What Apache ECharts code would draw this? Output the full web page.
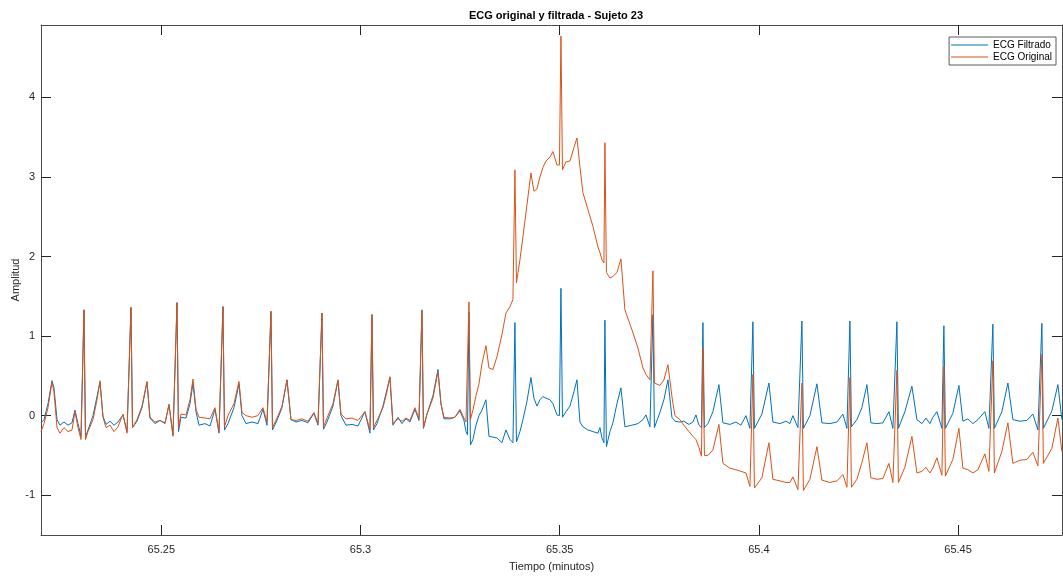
<!DOCTYPE html>
<html>
<head>
<meta charset="utf-8">
<script src="https://cdn.jsdelivr.net/npm/echarts@6/dist/echarts.min.js"></script>
<style>
html,body{margin:0;padding:0;background:#fff;}
#chart{width:1063px;height:578px;}
</style>
</head>
<body>
<div id="chart"></div>
<script>
const timeMin = [
65.21980, 65.22055, 65.22156, 65.22256, 65.22306, 65.22382, 65.22457, 65.22557, 65.22658, 65.22758,
65.22833, 65.22909, 65.22984, 65.23059, 65.23097, 65.23160, 65.23285, 65.23386, 65.23461, 65.23536,
65.23612, 65.23712, 65.23812, 65.23913, 65.24038, 65.24139, 65.24239, 65.24277, 65.24390, 65.24515,
65.24641, 65.24716, 65.24841, 65.24967, 65.25092, 65.25193, 65.25293, 65.25394, 65.25431, 65.25494,
65.25620, 65.25720, 65.25795, 65.25871, 65.25946, 65.26096, 65.26222, 65.26347, 65.26448, 65.26548,
65.26586, 65.26674, 65.26824, 65.26950, 65.27025, 65.27126, 65.27276, 65.27427, 65.27552, 65.27653,
65.27753, 65.27791, 65.27904, 65.28029, 65.28155, 65.28255, 65.28381, 65.28531, 65.28682, 65.28832,
65.28933, 65.29033, 65.29071, 65.29159, 65.29309, 65.29435, 65.29510, 65.29636, 65.29786, 65.29937,
65.30112, 65.30238, 65.30288, 65.30326, 65.30414, 65.30564, 65.30665, 65.30740, 65.30815, 65.30941,
65.31041, 65.31142, 65.31242, 65.31367, 65.31468, 65.31543, 65.31581, 65.31669, 65.31819, 65.31945,
65.32020, 65.32095, 65.32246, 65.32371, 65.32497, 65.32547, 65.32597, 65.32648, 65.32685, 65.32723,
65.32760, 65.32823, 65.32899, 65.32974, 65.33049, 65.33149, 65.33225, 65.33325, 65.33426, 65.33551,
65.33651, 65.33752, 65.33827, 65.33877, 65.33915, 65.34003, 65.34078, 65.34179, 65.34279, 65.34354,
65.34430, 65.34505, 65.34580, 65.34656, 65.34756, 65.34831, 65.34932, 65.34994, 65.35032, 65.35070,
65.35158, 65.35258, 65.35358, 65.35434, 65.35509, 65.35584, 65.35710, 65.35835, 65.35961, 65.36011,
65.36061, 65.36111, 65.36136, 65.36174, 65.36262, 65.36337, 65.36438, 65.36538, 65.36638, 65.36814,
65.36965, 65.37090, 65.37166, 65.37266, 65.37316, 65.37341, 65.37379, 65.37517, 65.37617, 65.37718,
65.37818, 65.37893, 65.38019, 65.38119, 65.38245, 65.38345, 65.38421, 65.38496, 65.38559, 65.38596,
65.38634, 65.38722, 65.38847, 65.38998, 65.39098, 65.39274, 65.39425, 65.39550, 65.39676, 65.39776,
65.39851, 65.39889, 65.40077, 65.40253, 65.40353, 65.40529, 65.40680, 65.40780, 65.40855, 65.40981,
65.41081, 65.41119, 65.41282, 65.41458, 65.41583, 65.41784, 65.41960, 65.42110, 65.42211, 65.42286,
65.42324, 65.42462, 65.42587, 65.42713, 65.42813, 65.42964, 65.43114, 65.43265, 65.43365, 65.43466,
65.43503, 65.43666, 65.43842, 65.43968, 65.44093, 65.44194, 65.44294, 65.44369, 65.44470, 65.44595,
65.44645, 65.44683, 65.44871, 65.45022, 65.45122, 65.45248, 65.45373, 65.45499, 65.45674, 65.45775,
65.45875, 65.45913, 65.46101, 65.46252, 65.46377, 65.46553, 65.46729, 65.46879, 65.47005, 65.47105,
65.47143, 65.47356, 65.47507, 65.47607
];

const ecgFiltrado = [
-0.09, -0.05, 0.15, 0.44, 0.35, -0.05, -0.12, -0.08, -0.12, -0.09,
0.07, -0.1, -0.26, 1.33, -0.27, -0.18, 0, 0.24, 0.42, -0.01,
-0.11, -0.07, -0.12, -0.08, 0.01, -0.2, 1.36, -0.15, -0.07, 0.1,
0.42, -0.03, -0.1, -0.06, -0.1, 0.14, -0.24, 1.42, -0.2, -0.02,
-0.03, 0.15, 0.41, 0.05, -0.12, -0.1, -0.13, 0.08, -0.22, 1.37,
-0.18, -0.1, 0.1, 0.4, 0, -0.1, -0.08, -0.1, 0.08, -0.12,
1.31, -0.18, -0.06, 0.1, 0.45, -0.05, -0.08, -0.06, -0.09, 0.03,
-0.12, 1.29, -0.17, -0.08, 0.12, 0.44, 0, -0.12, -0.11, -0.13,
0.05, -0.22, 1.27, -0.18, -0.1, 0.12, 0.33, 0.48, -0.12, -0.02,
-0.1, -0.04, -0.08, 0.08, -0.06, 1.33, -0.16, 0.02, 0.25, 0.58,
0.15, -0.04, -0.04, -0.02, 0.06, 0.05, -0.06, -0.2, -0.24, 1.3,
-0.37, -0.3, -0.12, 0, 0.07, 0.2, -0.26, -0.27, -0.28, -0.34,
-0.18, -0.3, -0.34, 1.17, -0.33, -0.2, -0.05, 0.18, 0.48, 0.22,
0.12, 0.2, 0.24, 0.22, 0.2, 0.15, 0.01, 0, 1.6, -0.02,
0.05, 0.12, 0.3, 0.45, -0.08, -0.14, -0.18, -0.2, -0.22, -0.15,
-0.28, -0.34, 1.2, -0.39, -0.2, -0.09, 0.15, 0.35, -0.14, -0.12,
-0.1, -0.05, 0.01, -0.14, -0.16, 1.27, -0.15, 0.04, 0.2, 0.45,
-0.02, -0.07, -0.08, -0.07, -0.11, -0.08, 0.01, -0.12, -0.15, 1.17,
-0.15, -0.1, 0.05, 0.39, -0.09, -0.11, -0.08, -0.12, 0, -0.16,
1.18, -0.16, 0.02, 0.41, -0.08, -0.1, -0.07, -0.1, 0, -0.15,
1.19, -0.16, 0, 0.4, -0.09, -0.1, -0.08, 0.02, -0.16, 1.19,
-0.14, -0.05, 0.1, 0.39, -0.09, -0.1, -0.09, 0.05, -0.16, 1.18,
-0.16, 0.05, 0.37, -0.05, -0.1, -0.03, -0.1, -0.02, 0.05, -0.16,
1.13, -0.16, 0.03, 0.38, -0.07, -0.04, -0.1, -0.05, 0.05, -0.16,
1.15, -0.16, 0.05, 0.41, -0.05, -0.07, -0.06, 0.02, -0.18, 1.16,
-0.16, 0.06, 0.39, -0.05
];

const ecgOriginal = [
-0.2, -0.1, 0.1, 0.42, 0.3, -0.15, -0.22, -0.15, -0.2, -0.18,
0.05, -0.15, -0.3, 1.33, -0.3, -0.2, -0.05, 0.2, 0.44, -0.02,
-0.15, -0.12, -0.2, -0.14, 0.02, -0.22, 1.36, -0.15, -0.05, 0.12,
0.43, -0.02, -0.08, -0.06, -0.09, 0.14, -0.26, 1.42, -0.15, 0.02,
0.01, 0.2, 0.46, 0.08, -0.02, -0.03, -0.04, 0.1, -0.2, 1.37,
-0.14, 0, 0.15, 0.43, 0.04, 0, -0.02, 0, 0.1, -0.08,
1.31, -0.15, -0.03, 0.12, 0.45, -0.05, -0.06, -0.04, -0.07, 0.04,
-0.1, 1.29, -0.14, -0.03, 0.15, 0.45, 0.02, -0.04, -0.03, -0.06,
0.05, -0.18, 1.27, -0.15, -0.06, 0.1, 0.3, 0.49, -0.1, -0.04,
-0.07, -0.03, -0.06, 0.1, -0.04, 1.31, -0.15, 0.02, 0.22, 0.55,
0.15, -0.02, -0.03, -0.02, 0.08, 0.1, -0.03, -0.08, -0.1, 1.43,
-0.05, 0.07, 0.25, 0.4, 0.65, 0.88, 0.6, 0.58, 0.74, 1.02,
1.29, 1.37, 1.46, 3.09, 1.67, 1.96, 2.25, 2.65, 3.05, 2.82,
2.85, 3.0, 3.12, 3.2, 3.25, 3.32, 3.15, 3.15, 4.77, 3.09,
3.19, 3.2, 3.37, 3.49, 3.13, 2.8, 2.59, 2.38, 2.12, 2.05,
1.96, 1.92, 3.43, 1.8, 1.73, 1.75, 1.8, 1.97, 1.33, 1.08,
0.85, 0.6, 0.52, 0.45, 0.45, 1.82, 0.41, 0.38, 0.45, 0.64,
0.24, 0, -0.05, -0.12, -0.2, -0.26, -0.3, -0.4, -0.51, 0.85,
-0.5, -0.5, -0.43, -0.11, -0.6, -0.66, -0.68, -0.7, -0.72, -0.89,
0.52, -0.91, -0.78, -0.34, -0.8, -0.82, -0.84, -0.84, -0.77, -0.93,
0.41, -0.94, -0.8, -0.39, -0.81, -0.84, -0.82, -0.74, -0.9, 0.48,
-0.9, -0.8, -0.59, -0.34, -0.78, -0.8, -0.79, -0.6, -0.84, 0.57,
-0.84, -0.65, -0.26, -0.72, -0.7, -0.65, -0.72, -0.66, -0.53, -0.75,
0.62, -0.76, -0.55, -0.16, -0.66, -0.68, -0.72, -0.68, -0.48, -0.7,
0.69, -0.72, -0.45, -0.09, -0.6, -0.56, -0.55, -0.46, -0.63, 0.77,
-0.6, -0.41, -0.03, -0.45
];

const xTicks = [65.25, 65.3, 65.35, 65.4, 65.45];
const yTicks = [-1, 0, 1, 2, 3, 4];
const seriesNames = ['ECG Filtrado', 'ECG Original'];
const titleText = 'ECG original y filtrada - Sujeto 23';
const xName = 'Tiempo (minutos)';
const yName = 'Amplitud';

const X_MIN = 65.2198, X_MAX = 65.4761, Y_MIN = -1.5, Y_MAX = 4.91;
const AX = '#262626';
const FONT = 'Liberation Sans, Arial, Helvetica, sans-serif';

const chart = echarts.init(document.getElementById('chart'), null, {renderer: 'canvas'});

function fmtX(v) { return String(parseFloat(Number(v).toFixed(2))); }

const tickStyle = {show: true, inside: true, length: 10, lineStyle: {color: AX, width: 1}};
const lineStyleAx = {show: true, onZero: false, lineStyle: {color: '#4a4a4a', width: 1}};

chart.setOption({
  animation: false,
  backgroundColor: '#ffffff',
  textStyle: {fontFamily: FONT},
  title: {
    text: titleText,
    left: 551, top: 5, textAlign: 'center',
    textStyle: {fontSize: 11, fontWeight: 'bold', color: '#000', fontFamily: FONT}
  },
  legend: {
    data: seriesNames,
    orient: 'vertical',
    right: 7, top: 37,
    padding: [2, 4, 2, 2],
    itemGap: 0,
    itemWidth: 37, itemHeight: 1,
    icon: 'rect',
    backgroundColor: '#fff',
    borderColor: '#5a5a5a', borderWidth: 1,
    textStyle: {fontSize: 10, color: '#000', lineHeight: 12, fontFamily: FONT}
  },
  grid: {left: 41, right: 1, top: 25, bottom: 43, containLabel: false, outerBoundsMode: 'none'},
  xAxis: [{
    type: 'value', min: X_MIN, max: X_MAX, position: 'bottom',
    name: xName, nameLocation: 'middle', nameGap: 26,
    nameTextStyle: {fontSize: 11, color: AX, fontFamily: FONT},
    axisLine: lineStyleAx,
    axisTick: Object.assign({customValues: xTicks}, tickStyle),
    axisLabel: {customValues: xTicks, formatter: fmtX, fontSize: 11, color: AX, margin: 9, fontFamily: FONT},
    splitLine: {show: false}
  }, {
    type: 'value', min: X_MIN, max: X_MAX, position: 'top',
    axisLine: lineStyleAx,
    axisTick: Object.assign({customValues: xTicks}, tickStyle),
    axisLabel: {show: false},
    splitLine: {show: false}
  }],
  yAxis: [{
    type: 'value', min: Y_MIN, max: Y_MAX, position: 'left',
    name: yName, nameLocation: 'middle', nameGap: 20, nameRotate: 90,
    nameMoveOverlap: false,
    nameTextStyle: {fontSize: 11, color: AX, fontFamily: FONT},
    axisLine: lineStyleAx,
    axisTick: Object.assign({customValues: yTicks}, tickStyle),
    axisLabel: {customValues: yTicks, fontSize: 11, color: AX, margin: 6, fontFamily: FONT},
    splitLine: {show: false}
  }, {
    type: 'value', min: Y_MIN, max: Y_MAX, position: 'right',
    axisLine: lineStyleAx,
    axisTick: Object.assign({customValues: yTicks}, tickStyle),
    axisLabel: {show: false},
    splitLine: {show: false}
  }],
  series: [{
    name: seriesNames[0], type: 'line', xAxisIndex: 0, yAxisIndex: 0,
    data: timeMin.map((t, i) => [t, ecgFiltrado[i]]),
    showSymbol: false, symbol: 'none',
    lineStyle: {color: '#0072BD', width: 1},
    itemStyle: {color: '#0072BD'},
    clip: true
  }, {
    name: seriesNames[1], type: 'line', xAxisIndex: 0, yAxisIndex: 0,
    data: timeMin.map((t, i) => [t, ecgOriginal[i]]),
    showSymbol: false, symbol: 'none',
    lineStyle: {color: '#D95319', width: 1},
    itemStyle: {color: '#D95319'},
    clip: true
  }]
});
</script>
</body>
</html>
